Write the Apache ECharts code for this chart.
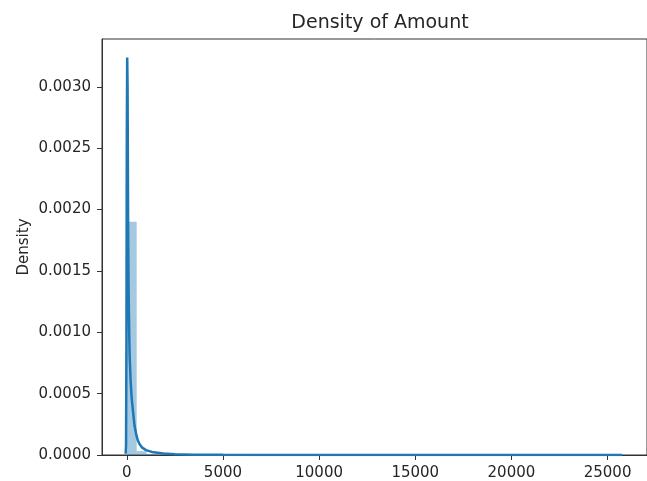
<!DOCTYPE html>
<html>
<head>
<meta charset="utf-8">
<script src="https://cdn.jsdelivr.net/npm/echarts@6/dist/echarts.min.js"></script>
<style>html,body{margin:0;padding:0;background:#fff}#c{width:647px;height:481px}</style>
</head>
<body>
<div id="c"></div>
<script>
// Histogram: 50 bins from 0 to 25691.16 (density)
const binStart = 0;
const binEnd = 25691.16;
const histDensity = [
  0.0019, 0.000032, 0.0000082, 0.0000027, 0.0000012, 0.00000055, 0.00000027, 0.00000014, 0.00000008, 0.00000005,
  0.00000004, 0.00000003, 0.00000002, 0.00000002, 0.00000001, 0.00000001, 0.00000001, 0.00000001, 0, 0.00000001,
  0, 0, 0, 0, 0, 0, 0, 0, 0, 0,
  0, 0, 0, 0, 0, 0, 0, 0, 0, 0,
  0, 0, 0, 0, 0, 0, 0, 0, 0, 0.00000001
];
// KDE curve
const kdeX = [-60, -40, -20, 0, 20, 40, 55, 70, 90, 110, 130, 150, 200, 250, 320, 400, 500, 570, 660, 800, 1000, 1300, 1900, 2500, 3500, 5000, 7000, 10000, 15000, 20000, 25750];
const kdeY = [0.00001, 0.00008, 0.0009, 0.0026, 0.00324, 0.0030, 0.0024, 0.0018, 0.0014, 0.00115, 0.00095, 0.0008, 0.0006, 0.00047, 0.00036, 0.00024, 0.00016, 0.00012, 0.00009, 0.00006, 0.00004, 0.000025, 0.000012, 0.000006, 0.000003, 0.0000015, 0.0000008, 0.0000005, 0.0000003, 0.0000002, 0];
// Tick labels
const xTicks = [0, 5000, 10000, 15000, 20000, 25000];
const yTicks = [0, 0.0005, 0.0010, 0.0015, 0.0020, 0.0025, 0.0030];

const binW = (binEnd - binStart) / histDensity.length;
const barData = histDensity.map((d, i) => [binStart + i * binW, binStart + (i + 1) * binW, d]);
const lineData = kdeX.map((x, i) => [x, kdeY[i]]);

const font = 'DejaVu Sans';
const ink = '#262626';
const chart = echarts.init(document.getElementById('c'), null, {renderer: 'canvas'});
chart.setOption({
  animation: false,
  backgroundColor: '#fff',
  title: {
    text: 'Density of Amount',
    left: 375, top: 9, textAlign: 'center',
    textStyle: {fontFamily: font, fontSize: 19, fontWeight: 'normal', color: ink}
  },
  grid: {left: 102, top: 39, width: 559, height: 417.7, show: true, borderColor: '#333', borderWidth: 1, backgroundColor: 'transparent'},
  xAxis: {
    type: 'value', min: -1290, max: 27050,
    axisLine: {show: true, onZero: false, lineStyle: {color: '#333', width: 1}},
    axisTick: {show: true, length: 5, lineStyle: {color: '#333'}, customValues: xTicks},
    axisLabel: {customValues: xTicks, margin: 11, fontFamily: font, fontSize: 15, color: ink,
      formatter: v => String(v)},
    splitLine: {show: false}
  },
  yAxis: {
    type: 'value', min: 0, max: 0.00339,
    name: 'Density', nameLocation: 'middle', nameRotate: 90, nameGap: 70, nameMoveOverlap: false,
    nameTextStyle: {fontFamily: font, fontSize: 15, color: ink},
    axisLine: {show: true, onZero: false, lineStyle: {color: '#333', width: 1}},
    axisTick: {show: true, length: 5, lineStyle: {color: '#333'}, customValues: yTicks},
    axisLabel: {customValues: yTicks, margin: 11, fontFamily: font, fontSize: 15, color: ink,
      formatter: v => v.toFixed(4)},
    splitLine: {show: false}
  },
  series: [
    {
      type: 'custom',
      data: barData,
      clip: true,
      renderItem: function (params, api) {
        const p0 = api.coord([api.value(0), 0]);
        const p1 = api.coord([api.value(1), api.value(2)]);
        return {
          type: 'rect',
          shape: {x: p0[0], y: p1[1], width: p1[0] - p0[0], height: p0[1] - p1[1]},
          style: {fill: 'rgba(31,119,180,0.4)'}
        };
      },
      encode: {x: [0, 1], y: 2}
    },
    {
      type: 'line',
      data: lineData,
      showSymbol: false,
      symbol: 'none',
      clip: true,
      lineStyle: {color: '#1f77b4', width: 2.5},
      z: 3
    }
  ]
});
</script>
</body>
</html>
